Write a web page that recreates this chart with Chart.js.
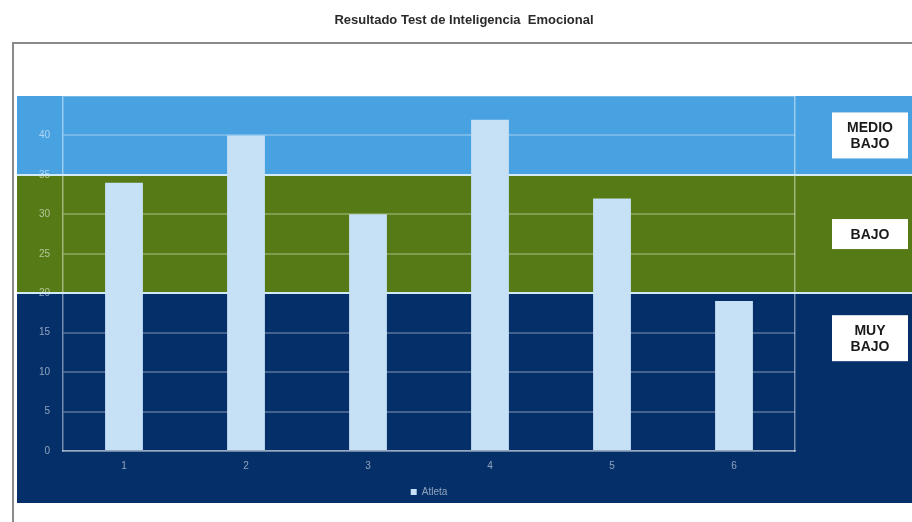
<!DOCTYPE html>
<html>
<head>
<meta charset="utf-8">
<script src="https://cdn.jsdelivr.net/npm/chart.js@4.4.0/dist/chart.umd.min.js"></script>
<style>
    html, body { margin: 0; padding: 0; background: #fff; }
    #wrap { width: 912px; height: 522px; }
</style>
</head>
<body>
<div id="wrap"><canvas id="chart" width="912" height="522"></canvas></div>
<script>
const chartTitle = 'Resultado Test de Inteligencia  Emocional';
const seriesName = 'Atleta';
const categories = ['1', '2', '3', '4', '5', '6'];
const scores = [34, 40, 30, 42, 32, 19];
const yTicks = [0, 5, 10, 15, 20, 25, 30, 35, 40, 45];

// bandas de resultado (de abajo a arriba)
const bandLimits = [0, 20, 35, 45];
const bandNames = [['MUY', 'BAJO'], ['BAJO'], ['MEDIO', 'BAJO']];

const bandColors = ['#042f69', '#567b16', '#48a2e2'];
const barColor = '#c6e0f5';
const faint = 'rgba(255,255,255,0.55)';
const font = "'Liberation Sans', Arial, sans-serif";

// where each label box sits (value units on y), a style choice
const boxAnchor = [14.3, 27.5, 40];

const bandsPlugin = {
    id: 'bands',
    beforeDraw(chart) {
        const ctx = chart.ctx;
        const y = chart.scales.y;
        const left = 17, right = chart.width, bottom = 503;
        ctx.save();
        ctx.fillStyle = '#fff';
        ctx.fillRect(0, 0, chart.width, chart.height);
        for (let i = 0; i < bandColors.length; i++) {
            let top = y.getPixelForValue(bandLimits[i + 1]);
            let bot = i == 0 ? bottom : y.getPixelForValue(bandLimits[i]);
            ctx.fillStyle = bandColors[i];
            ctx.fillRect(left, top, right - left, bot - top);
        }
        // marco
        ctx.strokeStyle = '#8a8a8a';
        ctx.lineWidth = 2;
        ctx.beginPath();
        ctx.moveTo(13, chart.height);
        ctx.lineTo(13, 43);
        ctx.lineTo(chart.width, 43);
        ctx.stroke();
        // titulo
        ctx.fillStyle = '#2a2a2a';
        ctx.font = `bold 13px ${font}`;
        ctx.textAlign = 'center';
        ctx.textBaseline = 'middle';
        ctx.fillText(chartTitle, 464, 20);
        ctx.restore();
    },
    beforeDatasetsDraw(chart) {
        const ctx = chart.ctx;
        const y = chart.scales.y;
        ctx.save();
        ctx.strokeStyle = '#d2eaf6';
        ctx.lineWidth = 2;
        for (let i = 1; i < bandLimits.length - 1; i++) {
            let py = Math.round(y.getPixelForValue(bandLimits[i]));
            ctx.beginPath();
            ctx.moveTo(17, py);
            ctx.lineTo(chart.width, py);
            ctx.stroke();
        }
        ctx.restore();
    },
    afterDraw(chart) {
        const ctx = chart.ctx;
        const y = chart.scales.y;
        ctx.save();
        ctx.font = `bold 14px ${font}`;
        ctx.textAlign = 'center';
        ctx.textBaseline = 'middle';
        bandNames.forEach((lines, i) => {
            let cy = y.getPixelForValue(boxAnchor[i]);
            let h = lines.length * 16 + 14;
            ctx.fillStyle = '#fff';
            ctx.fillRect(832, cy - h / 2, 76, h);
            ctx.fillStyle = '#1a1a1a';
            lines.forEach((t, j) => {
                ctx.fillText(t, 870, cy - (lines.length - 1) * 8 + j * 16 + 1);
            });
        });
        ctx.restore();
    }
};

document.addEventListener('DOMContentLoaded', () => {
    Chart.defaults.font.family = font;
    Chart.defaults.animation = false;
    new Chart(document.getElementById('chart'), {
        type: 'bar',
        plugins: [bandsPlugin],
        data: {
            labels: categories,
            datasets: [
                {
                    label: seriesName,
                    data: scores,
                    backgroundColor: barColor,
                    barPercentage: 0.31,
                    categoryPercentage: 1
                }
            ]
        },
        options: {
            responsive: false,
            layout: {
                padding: { left: 12, right: 0, top: 96, bottom: 15 }
            },
            scales: {
                x: {
                    grid: { display: false, drawTicks: false },
                    border: { display: true, color: 'rgba(255,255,255,0.45)', width: 1.5 },
                    ticks: { color: faint, font: { size: 10 }, padding: 9 }
                },
                y: {
                    min: 0,
                    max: 45,
                    afterBuildTicks: axis => { axis.ticks = yTicks.map(v => ({ value: v })); },
                    afterFit: axis => { axis.width = 51; },
                    grid: { color: 'rgba(255,255,255,0.25)', lineWidth: 2, drawTicks: false },
                    border: { display: true, color: 'rgba(255,255,255,0.45)', width: 1.5 },
                    ticks: {
                        color: faint,
                        font: { size: 10 },
                        padding: 13,
                        callback: v => v == 45 ? '' : v
                    }
                },
                y2: {
                    position: 'right',
                    min: 0,
                    max: 45,
                    afterFit: axis => { axis.width = 117; },
                    grid: { display: false, drawTicks: false },
                    border: { display: true, color: 'rgba(255,255,255,0.45)', width: 1.5 },
                    ticks: { display: false }
                }
            },
            plugins: {
                title: { display: false },
                tooltip: { enabled: false },
                legend: {
                    display: true,
                    position: 'bottom',
                    fullSize: false,
                    labels: {
                        color: faint,
                        boxWidth: 6,
                        boxHeight: 6,
                        padding: 6,
                        font: { size: 10 }
                    }
                }
            }
        }
    });
});
</script>
</body>
</html>
